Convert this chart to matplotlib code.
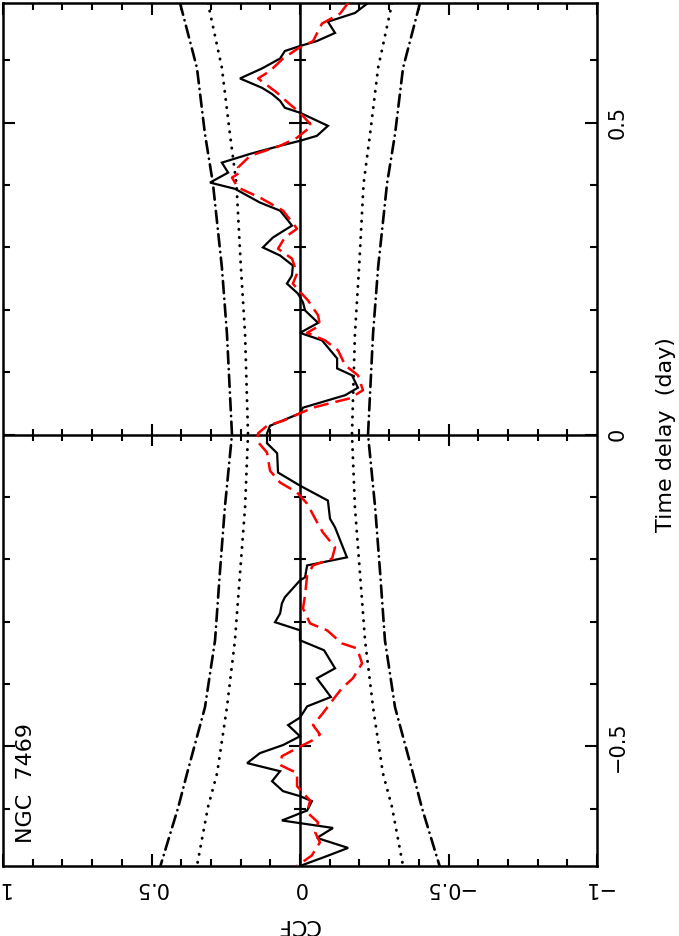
import numpy as np
import matplotlib
matplotlib.use("Agg")
import matplotlib.pyplot as plt
from matplotlib.ticker import MultipleLocator, FixedLocator, FixedFormatter

# ---------------- data (time delay in days, CCF) ----------------
ccf_time = [0.692, 0.676, 0.662, 0.644, 0.631, 0.623, 0.615, 0.603, 0.587, 0.571,
            0.556, 0.546, 0.535, 0.524, 0.516, 0.495, 0.479, 0.471, 0.463, 0.450,
            0.436, 0.420, 0.404, 0.394, 0.372, 0.359, 0.343, 0.335, 0.316, 0.300,
            0.287, 0.271, 0.255, 0.242, 0.226, 0.212, 0.199, 0.179, 0.163, 0.151,
            0.122, 0.106, 0.095, 0.075, 0.063, 0.043, 0.034, 0.014, 0.002, -0.014,
            -0.030, -0.061, -0.082, -0.106, -0.135, -0.149, -0.197, -0.210, -0.229, -0.234,
            -0.261, -0.271, -0.287, -0.301, -0.314, -0.330, -0.346, -0.375, -0.391, -0.421,
            -0.436, -0.454, -0.466, -0.484, -0.498, -0.511, -0.527, -0.540, -0.556, -0.572,
            -0.580, -0.588, -0.603, -0.619, -0.631, -0.647, -0.663, -0.676, -0.692]
ccf_value = [-0.229, -0.185, -0.094, -0.118, -0.057, 0.000, 0.051, 0.067, 0.128, 0.202,
             0.128, 0.094, 0.067, 0.051, 0.000, -0.094, -0.057, 0.000, 0.067, 0.168,
             0.263, 0.242, 0.303, 0.219, 0.135, 0.067, 0.040, 0.027, 0.091, 0.125,
             0.067, 0.024, 0.027, 0.044, 0.007, -0.010, -0.017, -0.061, 0.000, -0.074,
             -0.125, -0.125, -0.175, -0.195, -0.152, -0.010, 0.000, 0.101, 0.111, 0.111,
             0.077, 0.074, 0.000, -0.094, -0.101, -0.118, -0.158, -0.024, -0.017, 0.000,
             0.051, 0.061, 0.067, 0.084, 0.000, 0.000, -0.081, -0.118, -0.057, -0.104,
             -0.024, 0.000, 0.040, 0.000, 0.057, 0.135, 0.178, 0.067, 0.094, 0.057,
             0.000, -0.040, -0.024, 0.061, -0.111, -0.057, -0.162, -0.091, 0.000]

model_time = [0.692, 0.675, 0.659, 0.631, 0.619, 0.603, 0.583, 0.571, 0.548, 0.532,
              0.516, 0.495, 0.476, 0.463, 0.447, 0.428, 0.420, 0.412, 0.396, 0.380,
              0.359, 0.330, 0.316, 0.298, 0.282, 0.258, 0.242, 0.234, 0.215, 0.191,
              0.175, 0.163, 0.151, 0.135, 0.111, 0.095, 0.071, 0.058, 0.051, 0.043,
              0.034, 0.022, 0.014, 0.002, -0.010, -0.029, -0.058, -0.077, -0.093, -0.111,
              -0.135, -0.157, -0.181, -0.199, -0.210, -0.226, -0.258, -0.279, -0.303, -0.314,
              -0.335, -0.343, -0.367, -0.391, -0.407, -0.421, -0.447, -0.466, -0.481, -0.490,
              -0.503, -0.516, -0.530, -0.543, -0.564, -0.587, -0.606, -0.622, -0.638, -0.654,
              -0.675, -0.692]
model_value = [-0.162, -0.135, -0.074, -0.044, 0.007, 0.057, 0.101, 0.141, 0.077, 0.040,
               0.000, -0.040, 0.010, 0.067, 0.168, 0.209, 0.202, 0.229, 0.209, 0.135,
               0.057, 0.010, 0.051, 0.074, 0.027, 0.010, 0.024, 0.010, -0.027, -0.061,
               -0.067, -0.024, -0.084, -0.128, -0.152, -0.195, -0.212, -0.168, -0.108, -0.044,
               0.000, 0.057, 0.111, 0.141, 0.145, 0.111, 0.101, 0.067, 0.010, -0.024,
               -0.051, -0.077, -0.118, -0.108, -0.044, -0.024, -0.017, -0.010, -0.034, -0.091,
               -0.141, -0.192, -0.209, -0.178, -0.141, -0.118, -0.077, -0.044, -0.067, -0.044,
               0.010, 0.061, 0.067, 0.010, 0.010, -0.034, -0.024, -0.061, -0.051, -0.067,
               -0.040, 0.010]

conf_time = [0.692, 0.588, 0.482, 0.402, 0.268, 0.162, 0.0, -0.117, -0.223, -0.330,
             -0.4375, -0.543, -0.598, -0.692]
conf_inner = [0.31, 0.263, 0.236, 0.214, 0.199, 0.185, 0.175, 0.185, 0.202, 0.219,
              0.246, 0.279, 0.31, 0.347]
conf_outer = [0.404, 0.347, 0.320, 0.293, 0.263, 0.246, 0.229, 0.253, 0.27, 0.286,
              0.32, 0.38, 0.41, 0.47]

ccf_ticks = [1, 0.5, 0, -0.5, -1]
ccf_ticklabels = ["1", "0.5", "0", "\u22120.5", "\u22121"]
time_ticks = [-0.5, 0, 0.5]
time_ticklabels = ["\u22120.5", "0", "0.5"]
time_range = (-0.692, 0.692)
ccf_range = (1, -1)
object_name = "NGC  7469"

# ---------------- figure ----------------
plt.rcParams['font.family'] = ['DejaVu Sans']
fig = plt.figure(figsize=(6.79, 9.36), dpi=100)
ax = fig.add_axes([3/679, 1 - 866/936, 594/679, 863/936])

ax.axvline(0, color='black', lw=1.8, zorder=2)
ax.axhline(0, color='black', lw=1.8, zorder=2)

ct = np.array(conf_time)
dot_style = (0, (0.1, 2.7))
dashdot_style = (0, (4.6, 2.1, 0.1, 2.1))
for sign in (1, -1):
    ax.plot(sign * np.array(conf_inner), ct, color='black', lw=2.1, linestyle=dot_style,
            dash_capstyle='round', zorder=3)
    ax.plot(sign * np.array(conf_outer), ct, color='black', lw=1.9, linestyle=dashdot_style,
            dash_capstyle='round', zorder=3)

ax.plot(ccf_value, ccf_time, color='black', lw=1.6, zorder=4, solid_joinstyle='miter')
ax.plot(model_value, model_time, color='red', lw=1.8, linestyle=(0, (6, 2.8)), zorder=5)

ax.set_xlim(*ccf_range)
ax.set_ylim(*time_range)

ax.xaxis.set_major_locator(FixedLocator(ccf_ticks))
ax.xaxis.set_major_formatter(FixedFormatter(ccf_ticklabels))
ax.xaxis.set_minor_locator(MultipleLocator(0.1))
ax.yaxis.set_major_locator(FixedLocator(time_ticks))
ax.yaxis.set_major_formatter(FixedFormatter(time_ticklabels))
ax.yaxis.set_minor_locator(MultipleLocator(0.1))

ax.tick_params(which='both', direction='in', top=True, bottom=True, left=True, right=True,
               width=1.5, color='black')
ax.tick_params(which='major', length=8.6)
ax.tick_params(which='minor', length=5)
ax.tick_params(axis='x', which='major', labelsize=15, pad=9, labelrotation=180)
ax.tick_params(axis='y', which='major', labelsize=15, pad=8, labelleft=False,
               labelright=True, labelrotation=90)
for lab in ax.get_yticklabels():
    lab.set_va('center')

for sp in ax.spines.values():
    sp.set_linewidth(1.8)

# ticks along the zero lines
xmin_locs = [v for v in ax.xaxis.get_minorticklocs() if 1e-6 < abs(v) < 0.99]
xmaj_locs = [v for v in ccf_ticks if 1e-6 < abs(v) < 0.99]
ymin_locs = [v for v in ax.yaxis.get_minorticklocs() if abs(v) > 1e-6]
ymaj_locs = [v for v in time_ticks if abs(v) > 1e-6]
ax.plot(xmin_locs, np.zeros(len(xmin_locs)), linestyle='none', marker='|', ms=8,
        mew=1.5, color='black', zorder=2)
ax.plot(xmaj_locs, np.zeros(len(xmaj_locs)), linestyle='none', marker='|', ms=16,
        mew=1.5, color='black', zorder=2)
ax.plot(np.zeros(len(ymin_locs)), ymin_locs, linestyle='none', marker='_', ms=9,
        mew=1.5, color='black', zorder=2)
ax.plot(np.zeros(len(ymaj_locs)), ymaj_locs, linestyle='none', marker='_', ms=16,
        mew=1.5, color='black', zorder=2)

ax.text(0.039, 0.096, object_name, transform=ax.transAxes, rotation=90,
        ha='center', va='center', fontsize=16)

fig.text(298/679, 1 - 925/936, "CCF", rotation=180, ha='center', va='center', fontsize=16)
fig.text(666/679, 1 - 435/936, "Time delay  (day)", rotation=90, ha='center', va='center',
         fontsize=16)

fig.savefig("out.png", dpi=100)
